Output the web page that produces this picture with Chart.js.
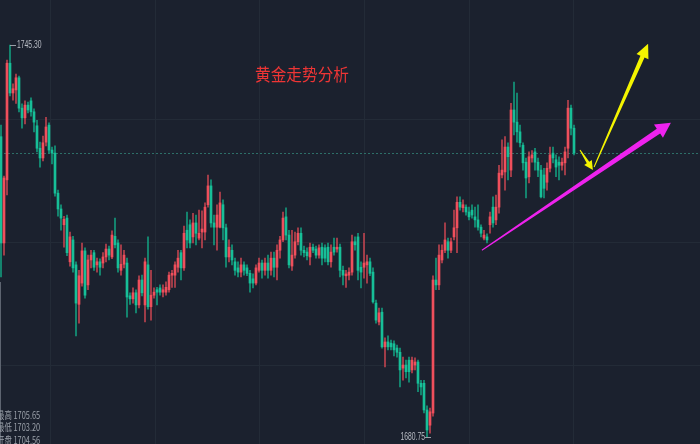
<!DOCTYPE html>
<html><head><meta charset="utf-8">
<script src="https://cdn.jsdelivr.net/npm/chart.js@4/dist/chart.umd.min.js"></script>
<style>html,body{margin:0;padding:0;background:#1b212e;overflow:hidden}#wrap{width:700px;height:444px;position:relative}</style>
</head><body><div id="wrap"><canvas id="c" width="700" height="444"></canvas></div>
<script>
// ---- data (price, per bar) ----
const opens = [1730.2,1712.7,1723.1,1742.3,1737.4,1737.9,1739.9,1734.9,1733.3,1735.4,1736.1,1734.3,1732.0,1728.3,1726.7,1729.3,1732.1,1728.0,1727.5,1720.9,1718.3,1715.7,1716.8,1709.6,1713.2,1709.1,1702.6,1706.1,1711.4,1705.8,1709.9,1711.1,1709.1,1709.6,1709.4,1710.4,1711.7,1710.4,1713.8,1712.7,1708.2,1709.2,1709.4,1704.0,1703.5,1704.5,1702.5,1706.6,1702.5,1709.1,1702.2,1704.1,1705.0,1705.3,1704.6,1704.6,1705.0,1707.4,1707.4,1708.7,1711.1,1708.6,1714.8,1715.7,1713.7,1716.0,1713.5,1714.5,1714.5,1719.0,1722.1,1716.0,1715.3,1715.3,1719.0,1715.2,1710.4,1711.5,1709.6,1708.6,1707.9,1709.1,1708.6,1707.7,1706.8,1706.1,1708.2,1709.4,1708.2,1709.4,1708.2,1710.2,1708.7,1711.5,1713.2,1717.0,1714.0,1708.9,1710.7,1712.9,1714.3,1711.5,1711.2,1710.4,1712.0,1711.7,1710.7,1712.0,1711.9,1712.0,1709.6,1712.0,1711.7,1712.0,1708.2,1707.3,1707.4,1707.9,1712.9,1713.7,1708.7,1708.7,1709.1,1709.6,1707.9,1702.8,1699.7,1701.3,1695.6,1696.4,1696.2,1696.1,1695.4,1694.7,1692.1,1692.6,1693.4,1691.8,1692.6,1693.1,1689.6,1689.6,1685.2,1682.7,1684.7,1706.6,1705.8,1709.9,1711.5,1712.9,1711.5,1713.7,1715.2,1719.4,1718.5,1718.6,1717.8,1718.1,1717.0,1716.5,1715.3,1713.5,1713.7,1715.7,1718.6,1716.5,1718.6,1723.9,1724.4,1728.5,1724.7,1734.6,1732.6,1731.0,1728.8,1726.0,1723.6,1726.7,1727.7,1726.0,1724.7,1723.9,1722.7,1725.0,1727.5,1726.4,1726.0,1725.5,1725.9,1728.3,1734.9,1731.6];
const highs = [1732.1,1723.7,1742.8,1745.3,1738.9,1740.5,1740.2,1735.6,1736.1,1735.9,1736.6,1734.8,1732.9,1729.3,1730.3,1733.4,1732.5,1728.5,1728.7,1721.4,1719.0,1717.1,1717.3,1714.5,1713.8,1709.6,1708.2,1712.7,1711.9,1710.7,1711.5,1711.5,1710.2,1710.1,1711.1,1712.5,1712.2,1714.7,1716.8,1713.2,1712.4,1711.5,1710.2,1704.5,1705.3,1705.0,1707.3,1707.4,1710.2,1713.7,1708.2,1705.3,1705.4,1705.8,1705.8,1706.3,1707.9,1708.2,1709.6,1711.5,1711.5,1715.5,1717.8,1716.5,1717.6,1717.3,1718.1,1718.0,1719.3,1723.9,1723.1,1717.3,1719.0,1721.1,1719.8,1715.8,1713.2,1712.4,1710.2,1709.6,1710.2,1709.6,1709.1,1708.2,1707.6,1709.1,1710.2,1709.9,1710.2,1710.7,1711.2,1711.2,1712.4,1713.8,1717.8,1718.5,1714.8,1714.8,1714.5,1715.2,1715.2,1712.2,1711.9,1712.7,1712.5,1712.2,1712.4,1712.7,1712.4,1712.7,1712.4,1713.5,1713.5,1712.5,1708.9,1708.2,1708.6,1714.0,1713.7,1714.3,1709.6,1714.3,1710.7,1710.2,1708.6,1703.3,1702.0,1702.0,1697.1,1697.4,1696.7,1696.6,1695.9,1695.4,1693.9,1693.4,1693.9,1693.9,1693.8,1693.4,1690.1,1690.1,1685.9,1685.5,1707.3,1710.2,1712.4,1712.4,1716.0,1713.5,1713.5,1718.1,1720.3,1720.3,1719.8,1719.0,1718.6,1719.0,1718.6,1719.0,1715.7,1714.8,1714.2,1717.8,1720.3,1720.6,1725.5,1729.7,1730.2,1729.2,1735.7,1739.2,1737.4,1732.1,1729.2,1726.7,1727.7,1727.9,1728.3,1726.7,1725.5,1725.0,1725.9,1728.5,1728.5,1727.2,1726.9,1726.7,1728.5,1736.2,1735.4,1732.1];
const lows = [1707.1,1710.7,1720.6,1736.9,1736.2,1735.7,1734.3,1731.6,1732.3,1734.1,1733.6,1731.0,1727.7,1725.2,1726.2,1728.7,1727.5,1725.7,1720.4,1717.1,1714.8,1712.0,1710.6,1708.9,1707.9,1697.4,1699.5,1705.6,1703.6,1705.0,1708.6,1708.2,1707.9,1707.4,1708.6,1709.6,1709.9,1710.1,1711.9,1707.9,1707.4,1708.6,1700.5,1702.6,1702.8,1701.2,1702.0,1704.0,1699.7,1701.8,1700.0,1703.6,1702.5,1704.1,1703.8,1704.1,1704.6,1705.4,1705.4,1707.9,1706.6,1708.2,1711.9,1711.9,1712.7,1712.4,1713.2,1711.9,1713.2,1718.6,1715.3,1712.4,1711.5,1715.2,1713.2,1708.7,1709.6,1709.1,1707.4,1707.1,1707.1,1707.4,1707.3,1704.6,1705.3,1705.8,1707.9,1706.9,1707.4,1706.9,1707.4,1707.1,1706.6,1710.2,1712.9,1713.2,1708.6,1708.2,1710.2,1712.4,1710.7,1710.4,1709.9,1709.1,1711.1,1710.2,1710.2,1709.1,1709.6,1709.1,1708.7,1710.7,1711.2,1707.1,1705.8,1705.4,1706.6,1707.4,1711.5,1706.6,1705.3,1706.9,1706.1,1707.3,1702.8,1699.5,1699.2,1695.4,1692.3,1695.1,1695.1,1694.1,1693.9,1689.0,1690.1,1690.5,1689.8,1691.3,1691.8,1688.2,1687.7,1684.7,1680.75,1681.4,1684.2,1705.0,1705.0,1709.4,1711.1,1710.2,1711.1,1713.2,1711.1,1718.1,1717.8,1717.3,1716.5,1716.8,1715.3,1714.8,1713.7,1713.2,1712.7,1714.3,1715.3,1715.7,1717.6,1723.4,1721.4,1723.1,1723.6,1730.5,1729.3,1728.5,1724.7,1720.1,1722.6,1726.0,1724.7,1723.6,1720.1,1720.1,1721.4,1724.4,1725.9,1723.6,1723.1,1724.7,1723.9,1726.7,1730.5,1727.2];
const closes = [1712.7,1723.4,1742.3,1737.4,1738.1,1739.9,1734.9,1733.3,1735.4,1734.6,1734.3,1732.6,1728.3,1726.7,1729.2,1731.8,1728.0,1727.5,1720.9,1718.3,1716.8,1716.6,1711.1,1713.7,1708.6,1702.8,1707.3,1711.4,1704.1,1709.9,1710.7,1708.7,1709.6,1708.7,1710.4,1711.7,1710.7,1714.0,1712.4,1708.6,1709.2,1710.7,1703.8,1703.5,1704.5,1702.5,1706.6,1704.5,1709.6,1702.2,1704.1,1704.6,1704.6,1704.6,1705.0,1705.4,1707.4,1707.7,1709.1,1710.2,1708.6,1714.3,1713.2,1712.7,1716.0,1714.3,1714.3,1715.0,1718.6,1722.1,1716.0,1715.3,1717.3,1719.3,1715.2,1710.4,1712.0,1709.9,1708.2,1707.9,1709.1,1708.2,1707.7,1706.1,1706.1,1708.6,1709.4,1708.2,1709.4,1708.2,1710.2,1708.7,1711.5,1713.2,1716.8,1714.0,1709.1,1710.7,1712.9,1714.3,1711.5,1711.1,1710.6,1712.0,1711.5,1710.7,1711.9,1710.2,1710.2,1709.6,1711.2,1711.2,1712.0,1708.2,1707.4,1707.6,1707.9,1712.9,1712.4,1708.2,1707.9,1709.4,1709.6,1707.7,1703.0,1700.0,1701.2,1695.6,1696.4,1695.6,1695.6,1695.1,1694.7,1691.8,1692.6,1691.5,1691.5,1693.4,1693.1,1689.6,1689.0,1685.2,1681.9,1684.9,1706.6,1705.8,1710.7,1711.5,1713.2,1711.5,1712.9,1715.2,1719.4,1718.6,1719.0,1717.8,1717.0,1717.3,1716.5,1715.3,1714.3,1714.0,1713.2,1717.0,1716.0,1718.6,1724.2,1724.7,1728.5,1726.9,1734.6,1732.6,1731.0,1729.2,1725.9,1723.4,1726.9,1727.2,1726.0,1724.7,1720.3,1721.7,1725.0,1727.2,1726.7,1725.2,1725.5,1726.0,1727.7,1734.9,1731.6,1727.5];
const categories = opens.map((v, i) => i);
// grid positions (x in bar index, y in price)
const xGridTicks = [16.3, 51.2, 86.1, 121.0, 155.9, 190.8];
const yGridTicks = [1733.1, 1712.9, 1692.6];
const titleText = '黄金走势分析';
const infoLabels = ['最高 1705.65', '最低 1703.20', '开盘 1704.56'];
// drawn arrows [fromIndex, fromPrice, toIndex, toPrice]
const arrowMagenta = [160.3, 1711.5, 223.3, 1732.5];
const arrowYellowShort = [193.0, 1728.0, 197.3, 1724.7];
const arrowYellowLong = [197.7, 1725.2, 215.7, 1745.5];

const UP = '#ef4f5c', DOWN = '#17bf98';
const UP_W = 'rgba(205,70,82,0.9)', DOWN_W = 'rgba(20,165,132,0.9)';
const isUp = categories.map(i => closes[i] >= opens[i]);

const overlay = {
  id: 'overlay',
  beforeDatasetsDraw(chart) {
    const ctx = chart.ctx, xs = chart.scales.x, ys = chart.scales.y;
    ctx.save();
    ctx.strokeStyle = '#232b37'; ctx.lineWidth = 1;
    xGridTicks.forEach(v => { const x = Math.round(xs.getPixelForValue(v)) + 0.5; ctx.beginPath(); ctx.moveTo(x, 0); ctx.lineTo(x, 444); ctx.stroke(); });
    yGridTicks.forEach(v => { const y = Math.round(ys.getPixelForValue(v)) + 0.5; ctx.beginPath(); ctx.moveTo(0, y); ctx.lineTo(700, y); ctx.stroke(); });
    // current price dotted line
    const last = closes[closes.length - 1];
    const yl = Math.round(ys.getPixelForValue(last)) + 0.5;
    ctx.strokeStyle = '#2d6f68'; ctx.setLineDash([2, 2]);
    ctx.beginPath(); ctx.moveTo(0, yl); ctx.lineTo(700, yl); ctx.stroke();
    ctx.restore();
  },
  afterDatasetsDraw(chart) {
    const ctx = chart.ctx, xs = chart.scales.x, ys = chart.scales.y;
    ctx.save();
    // left edge line
    ctx.fillStyle = '#5d6470'; ctx.fillRect(0, 282, 1, 162);
    // high / low markers
    let hi = 0, lo = 0;
    highs.forEach((v, i) => { if (v > highs[hi]) hi = i; });
    lows.forEach((v, i) => { if (v < lows[lo]) lo = i; });
    const hx = xs.getPixelForValue(hi), hy = Math.round(ys.getPixelForValue(highs[hi])) + 0.5;
    const lx = xs.getPixelForValue(lo), ly = Math.round(ys.getPixelForValue(lows[lo])) + 0.5;
    ctx.strokeStyle = '#9aa0a8'; ctx.lineWidth = 1;
    ctx.beginPath(); ctx.moveTo(hx, hy); ctx.lineTo(hx + 6, hy); ctx.stroke();
    ctx.beginPath(); ctx.moveTo(lx + 4, ly); ctx.lineTo(lx - 2, ly); ctx.stroke();
    ctx.fillStyle = '#b8bcc4'; ctx.font = '10px "Liberation Sans", Arial, sans-serif';
    ctx.textBaseline = 'middle';
    const sx = 0.68;
    ctx.save(); ctx.translate(hx + 7, hy); ctx.scale(sx, 1); ctx.textAlign = 'left'; ctx.fillText(highs[hi].toFixed(2), 0, 0); ctx.restore();
    ctx.save(); ctx.translate(lx - 2, ly); ctx.scale(sx, 1); ctx.textAlign = 'right'; ctx.fillText(lows[lo].toFixed(2), 0, 0); ctx.restore();
    // info labels bottom-left
    ctx.fillStyle = '#9ba1aa';
    ctx.font = '10px "Noto Sans CJK SC", "Liberation Sans", sans-serif';
    infoLabels.forEach((t, k) => { ctx.save(); ctx.translate(-3, 415 + k * 12.5); ctx.scale(0.74, 1); ctx.textAlign = 'left'; ctx.fillText(t, 0, 0); ctx.restore(); });
    // title
    ctx.fillStyle = '#ee3535';
    ctx.font = '17px "Noto Sans CJK SC", sans-serif';
    ctx.textAlign = 'center';
    ctx.save(); ctx.translate(302, 75); ctx.scale(0.92, 1); ctx.fillText(titleText, 0, 0); ctx.restore();
    // arrows
    const arrow = (a, color, w0, w1, hl, hw) => {
      const x0 = xs.getPixelForValue(a[0]), y0 = ys.getPixelForValue(a[1]);
      const x1 = xs.getPixelForValue(a[2]), y1 = ys.getPixelForValue(a[3]);
      const dx = x1 - x0, dy = y1 - y0, len = Math.hypot(dx, dy);
      const ux = dx / len, uy = dy / len, nx = -uy, ny = ux;
      const bx = x1 - ux * hl, by = y1 - uy * hl;
      ctx.fillStyle = color;
      ctx.beginPath();
      ctx.moveTo(x0 + nx * w0 / 2, y0 + ny * w0 / 2);
      ctx.lineTo(bx + nx * w1 / 2, by + ny * w1 / 2);
      ctx.lineTo(bx + nx * hw, by + ny * hw);
      ctx.lineTo(x1, y1);
      ctx.lineTo(bx - nx * hw, by - ny * hw);
      ctx.lineTo(bx - nx * w1 / 2, by - ny * w1 / 2);
      ctx.lineTo(x0 - nx * w0 / 2, y0 - ny * w0 / 2);
      ctx.closePath(); ctx.fill();
    };
    arrow(arrowMagenta, '#ee22ee', 1, 6, 15, 8);
    arrow(arrowYellowShort, '#f4f400', 1, 3, 9, 4.5);
    arrow(arrowYellowLong, '#f4f400', 1, 4.5, 14, 6.5);
    ctx.restore();
  }
};

new Chart(document.getElementById('c'), {
  type: 'bar',
  data: {
    datasets: [
      { label: 'wick', data: categories.map(i => ({ x: i, y: [lows[i], highs[i]] })),
        backgroundColor: categories.map(i => isUp[i] ? UP_W : DOWN_W),
        barThickness: 1, grouped: false, order: 2, minBarLength: 1, borderWidth: 0 },
      { label: 'body', data: categories.map(i => ({ x: i, y: [opens[i], closes[i]] })),
        backgroundColor: categories.map(i => isUp[i] ? UP : DOWN),
        barThickness: 2, grouped: false, order: 1, minBarLength: 1, borderWidth: 0 }
    ]
  },
  options: {
    responsive: false, animation: false, events: [],
    layout: { padding: 0 },
    plugins: { legend: { display: false }, tooltip: { enabled: false } },
    scales: {
      x: { type: 'linear', display: false, min: -1 / 3, max: 233, offset: false },
      y: { display: false, min: 1679.6, max: 1752.71 }
    }
  },
  plugins: [overlay]
});
</script></body></html>
